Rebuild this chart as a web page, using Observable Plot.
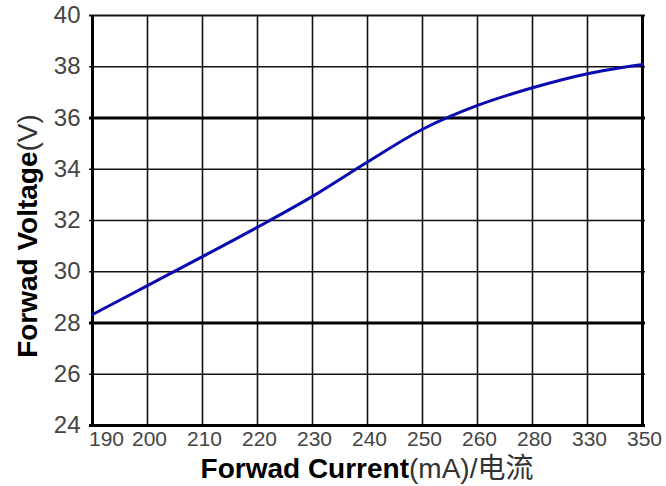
<!DOCTYPE html>
<html>
<head>
<meta charset="utf-8">
<script src="https://cdn.jsdelivr.net/npm/d3@7"></script>
<script src="https://cdn.jsdelivr.net/npm/@observablehq/plot@0.6"></script>
<style>
  body { margin: 0; background: #fff; }
  #chart svg { display: block; }
</style>
</head>
<body>
<div id="chart"></div>
<script>
// Forward current categories (mA) — equally spaced on the chart
const currents = ["190", "200", "210", "220", "230", "240", "250", "260", "280", "330", "350"];
// Forward voltage (V) at each current
const voltages = [28.33, 29.46, 30.59, 31.74, 32.94, 34.28, 35.56, 36.49, 37.18, 37.73, 38.09];
// Y tick labels
const yTicks = [24, 26, 28, 30, 32, 34, 36, 38, 40];
const majorY = [28, 36];
const xTitleMain = "Forwad Current";
const xTitleUnit = "(mA)/电流";
const yTitleMain = "Forwad Voltage";
const yTitleUnit = "(V)";

const data = currents.map((c, i) => ({ current: c, voltage: voltages[i] }));
const tickFont = "'Liberation Sans', Arial, sans-serif";

const chart = Plot.plot({
  width: 666,
  height: 486,
  marginLeft: 89,
  marginRight: 21,
  marginTop: 15,
  marginBottom: 61,
  style: { background: "#fff", overflow: "visible" },
  x: { type: "point", domain: currents, padding: 0, label: null },
  y: { domain: [24, 40], label: null },
  marks: [
    // inner vertical grid
    Plot.ruleX(currents.slice(1, -1), { stroke: "#111", strokeWidth: 1.6 }),
    // inner horizontal grid
    Plot.ruleY(yTicks.filter(d => d > 24 && d < 40 && !majorY.includes(d)), { stroke: "#111", strokeWidth: 1.6 }),
    Plot.ruleY(majorY, { stroke: "#000", strokeWidth: 3 }),
    // frame
    Plot.ruleY([40], { stroke: "#111", strokeWidth: 2 }),
    Plot.ruleY([24], { stroke: "#000", strokeWidth: 3 }),
    Plot.ruleX([currents[0], currents[currents.length - 1]], { stroke: "#000", strokeWidth: 3 }),
    // curve
    Plot.line(data, { x: "current", y: "voltage", stroke: "#0a0ab0", strokeWidth: 3, curve: "monotone-x" }),
    // axes
    Plot.axisY(yTicks, { tickSize: 0, tickPadding: 9, fontSize: 24, fill: "#444", fontFamily: tickFont, label: null }),
    Plot.axisX(currents.slice(1), { tickSize: 0, tickPadding: 6, dx: 2, fontSize: 21, fill: "#444", fontFamily: tickFont, label: null }),
    Plot.axisX(currents.slice(0, 1), { tickSize: 0, tickPadding: 6, dx: 14, fontSize: 21, fill: "#444", fontFamily: tickFont, label: null })
  ]
});

const svg = d3.select(chart);
const titleFont = "'Liberation Sans', Arial, 'Noto Sans CJK SC', sans-serif";

const xt = svg.append("text")
  .attr("x", 367).attr("y", 478)
  .attr("text-anchor", "middle")
  .attr("font-family", titleFont)
  .attr("font-size", 28);
xt.append("tspan").attr("font-weight", "bold").attr("fill", "#000").text(xTitleMain);
xt.append("tspan").attr("font-weight", "normal").attr("fill", "#333").attr("font-family", "'Liberation Sans', 'Noto Sans CJK SC', sans-serif").text(xTitleUnit);

const yt = svg.append("text")
  .attr("transform", "translate(37,236) rotate(-90)")
  .attr("text-anchor", "middle")
  .attr("font-family", titleFont)
  .attr("font-size", 28);
yt.append("tspan").attr("font-weight", "bold").attr("fill", "#000").text(yTitleMain);
yt.append("tspan").attr("font-weight", "normal").attr("fill", "#333").text(yTitleUnit);

document.getElementById("chart").appendChild(chart);
</script>
</body>
</html>
